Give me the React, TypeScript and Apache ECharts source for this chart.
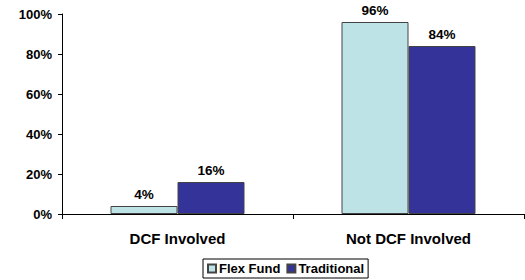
import React, { useEffect, useRef } from "react";
import * as echarts from "echarts";

const categories = ["DCF Involved", "Not DCF Involved"];
const flexFund = [4, 96];
const traditional = [16, 84];
const seriesNames = ["Flex Fund", "Traditional"];

export default function App() {
  const ref = useRef<HTMLDivElement>(null);
  useEffect(() => {
    const chart = echarts.init(ref.current!, null, { renderer: "svg" });
    const font = "Arial, 'Liberation Sans', sans-serif";
    const labelCfg = {
      show: true,
      position: "top" as const,
      distance: 5,
      formatter: "{c}%",
      fontFamily: font,
      fontWeight: "bold" as const,
      fontSize: 13.5,
      color: "#000",
    };
    chart.setOption({
      animation: false,
      textStyle: { fontFamily: font },
      grid: { left: 62, right: 1, top: 14, bottom: 66 },
      legend: {
        data: seriesNames,
        left: 203,
        bottom: 2,
        icon: "rect",
        itemWidth: 8,
        itemHeight: 8,
        itemGap: 6,
        padding: [3, 4, 3, 4],
        borderColor: "#000",
        borderWidth: 1,
        textStyle: { fontFamily: font, fontWeight: "bold", fontSize: 13, color: "#000", padding: [0, 0, 0, -2] },
      },
      xAxis: {
        type: "category",
        data: categories,
        axisLine: { lineStyle: { color: "#000", width: 1 } },
        axisTick: { show: true, length: 5, lineStyle: { color: "#000" } },
        axisLabel: { margin: 17, fontFamily: font, fontWeight: "bold", fontSize: 15, color: "#000" },
      },
      yAxis: {
        type: "value",
        min: 0,
        max: 100,
        interval: 20,
        axisLine: { show: true, lineStyle: { color: "#000", width: 1 } },
        axisTick: { show: true, length: 4, lineStyle: { color: "#000" } },
        splitLine: { show: false },
        axisLabel: { formatter: "{value}%", margin: 10, fontFamily: font, fontWeight: "bold", fontSize: 13, color: "#000" },
      },
      series: [
        {
          name: seriesNames[0],
          type: "bar",
          data: flexFund,
          barWidth: 67,
          barGap: "0%",
          itemStyle: { color: "#BDE3E6", borderColor: "#444", borderWidth: 1 },
          label: labelCfg,
        },
        {
          name: seriesNames[1],
          type: "bar",
          data: traditional,
          barWidth: 67,
          barGap: "0%",
          itemStyle: { color: "#333399", borderColor: "#444", borderWidth: 1 },
          label: labelCfg,
        },
      ],
    });
    return () => chart.dispose();
  }, []);
  return <div ref={ref} style={{ width: 525, height: 280, position: "absolute", left: 0, top: 0 }} />;
}
